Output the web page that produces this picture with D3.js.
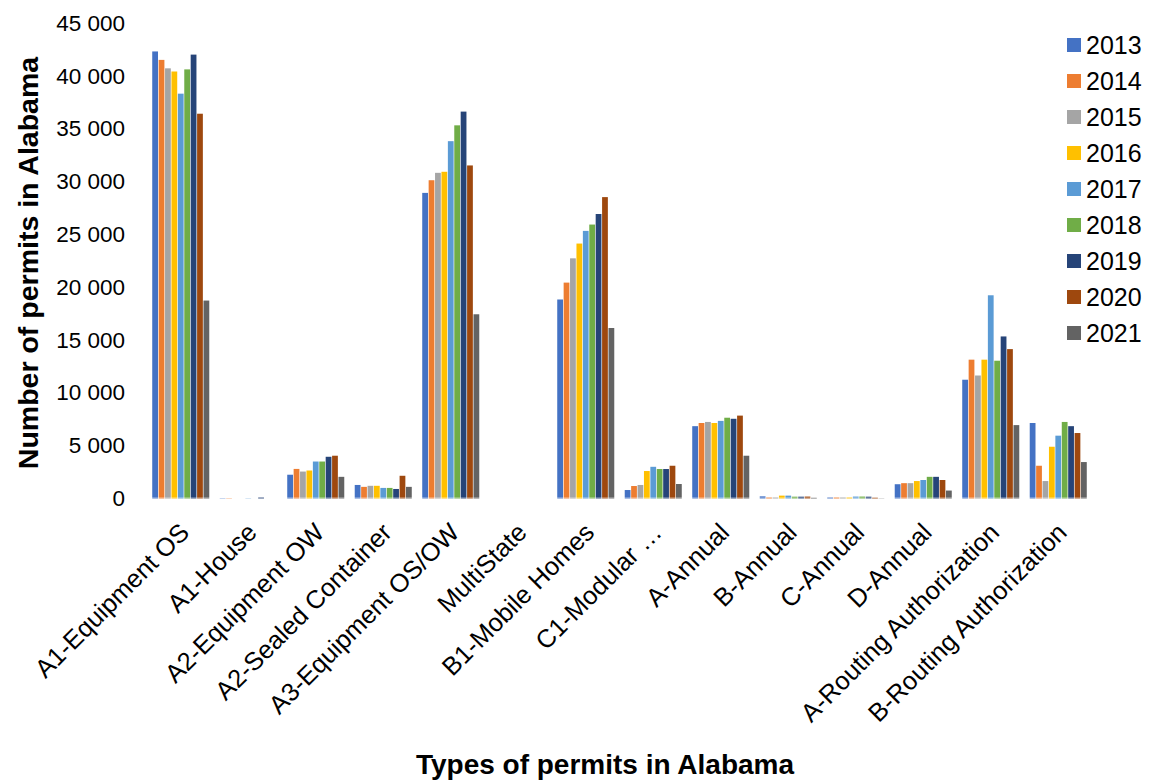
<!DOCTYPE html>
<html>
<head>
<meta charset="utf-8">
<script src="https://cdn.jsdelivr.net/npm/d3@7"></script>
<style>
  html, body { margin: 0; padding: 0; background: #fff; }
  svg { display: block; font-family: "Liberation Sans", Arial, sans-serif; }
</style>
</head>
<body>
<svg id="chart" width="1159" height="782"></svg>
<script>
// Permit types (x categories)
const categories = [
  "A1-Equipment OS", "A1-House", "A2-Equipment OW", "A2-Sealed Container",
  "A3-Equipment OS/OW", "MultiState", "B1-Mobile Homes", "C1-Modular …",
  "A-Annual", "B-Annual", "C-Annual", "D-Annual",
  "A-Routing Authorization", "B-Routing Authorization"
];

// Years (series)
const years = ["2013", "2014", "2015", "2016", "2017", "2018", "2019", "2020", "2021"];

// Permits issued per year, one array per year, in category order
const v2013 = [42400, 60, 2300, 1330, 29000, 0, 18900, 850, 6900, 250, 150, 1400, 11300, 7200];
const v2014 = [41600, 60, 2850, 1150, 30200, 0, 20500, 1230, 7200, 150, 150, 1500, 13200, 3150];
const v2015 = [40800, 0, 2600, 1250, 30900, 0, 22800, 1330, 7300, 150, 150, 1500, 11700, 1700];
const v2016 = [40500, 0, 2700, 1250, 31000, 0, 24200, 2650, 7200, 320, 150, 1700, 13200, 4950];
const v2017 = [38400, 50, 3550, 1050, 33900, 0, 25400, 3050, 7400, 320, 230, 1800, 19300, 6000];
const v2018 = [40700, 0, 3550, 1050, 35400, 0, 26000, 2840, 7700, 220, 230, 2100, 13100, 7300];
const v2019 = [42100, 150, 4000, 950, 36700, 0, 27000, 2840, 7600, 220, 220, 2100, 15400, 6900];
const v2020 = [36500, 0, 4100, 2200, 31600, 0, 28600, 3150, 7900, 230, 130, 1800, 14200, 6250];
const v2021 = [18800, 0, 2100, 1150, 17500, 0, 16200, 1420, 4100, 120, 40, 800, 7000, 3500];

const seriesValues = [v2013, v2014, v2015, v2016, v2017, v2018, v2019, v2020, v2021];

// Y axis ticks
const yTicks = [0, 5000, 10000, 15000, 20000, 25000, 30000, 35000, 40000, 45000];

const colors = ["#4472C4", "#ED7D31", "#A5A5A5", "#FFC000", "#5B9BD5",
                "#70AD47", "#264478", "#9E480E", "#636363"];

const svg = d3.select("#chart");

const plot = { left: 147, right: 1092, top: 24, bottom: 499 };

const x0 = d3.scaleBand()
  .domain(categories)
  .range([plot.left, plot.right])
  .paddingInner(0.155)
  .paddingOuter(0.0775);

const x1 = d3.scaleBand()
  .domain(years)
  .range([0, x0.bandwidth()])
  .paddingInner(0.1);

const y = d3.scaleLinear()
  .domain([0, 45000])
  .range([plot.bottom, plot.top]);

const color = d3.scaleOrdinal().domain(years).range(colors);

// thousands separated by a space
const fmt = v => d3.format(",")(v).replace(/,/g, " ");

// Bars
const rows = categories.map((c, i) => ({
  cat: c,
  vals: years.map((yr, j) => ({ year: yr, value: seriesValues[j][i] }))
}));

const groups = svg.append("g")
  .selectAll("g")
  .data(rows)
  .join("g")
  .attr("transform", d => `translate(${x0(d.cat)},0)`);

groups.selectAll("rect")
  .data(d => d.vals)
  .join("rect")
  .attr("x", d => x1(d.year))
  .attr("width", x1.bandwidth())
  .attr("y", d => y(d.value))
  .attr("height", d => y(0) - y(d.value))
  .attr("fill", d => color(d.year));

// Category axis line (light, drawn over the bar feet)
svg.append("line")
  .attr("x1", plot.left).attr("x2", plot.right)
  .attr("y1", y(0) - 0.5).attr("y2", y(0) - 0.5)
  .attr("stroke", "#ffffff").attr("stroke-opacity", 0.55)
  .attr("stroke-width", 2);

// Y axis (labels only)
const yAxis = d3.axisLeft(y)
  .tickValues(yTicks)
  .tickFormat(fmt)
  .tickSize(0)
  .tickPadding(0);

const gy = svg.append("g")
  .attr("transform", "translate(125,0)")
  .call(yAxis);
gy.select(".domain").remove();
gy.selectAll("text")
  .attr("font-family", "Liberation Sans, Arial, sans-serif")
  .attr("font-size", 22.5)
  .attr("fill", "#000")
  .attr("y", -1.5)
  .attr("dy", "0.35em");

// X axis (rotated category labels)
const xAxis = d3.axisBottom(x0).tickSize(0).tickPadding(0);
const gx = svg.append("g")
  .attr("transform", `translate(0,${plot.bottom})`)
  .call(xAxis);
gx.select(".domain").remove();
gx.selectAll("text")
  .attr("font-family", "Liberation Sans, Arial, sans-serif")
  .attr("font-size", 25.5)
  .attr("fill", "#000")
  .attr("text-anchor", "end")
  .attr("dy", null)
  .attr("y", 0)
  .attr("transform", "translate(10,35) rotate(-45)");

// Axis titles
svg.append("text")
  .attr("transform", "translate(38,263) rotate(-90)")
  .attr("text-anchor", "middle")
  .attr("font-size", 28.5)
  .attr("font-weight", "bold")
  .attr("fill", "#000")
  .text("Number of permits in Alabama");

svg.append("text")
  .attr("x", 605)
  .attr("y", 774)
  .attr("text-anchor", "middle")
  .attr("font-size", 28)
  .attr("font-weight", "bold")
  .attr("fill", "#000")
  .text("Types of permits in Alabama");

// Legend
const legend = svg.append("g")
  .selectAll("g")
  .data(years)
  .join("g")
  .attr("transform", (d, i) => `translate(1067,${45 + i * 36})`);

legend.append("rect")
  .attr("x", 0).attr("y", -7)
  .attr("width", 14).attr("height", 14)
  .attr("fill", d => color(d));

legend.append("text")
  .attr("x", 19)
  .attr("y", 0)
  .attr("dy", "0.35em")
  .attr("font-size", 25)
  .attr("fill", "#000")
  .text(d => d);
</script>
</body>
</html>
